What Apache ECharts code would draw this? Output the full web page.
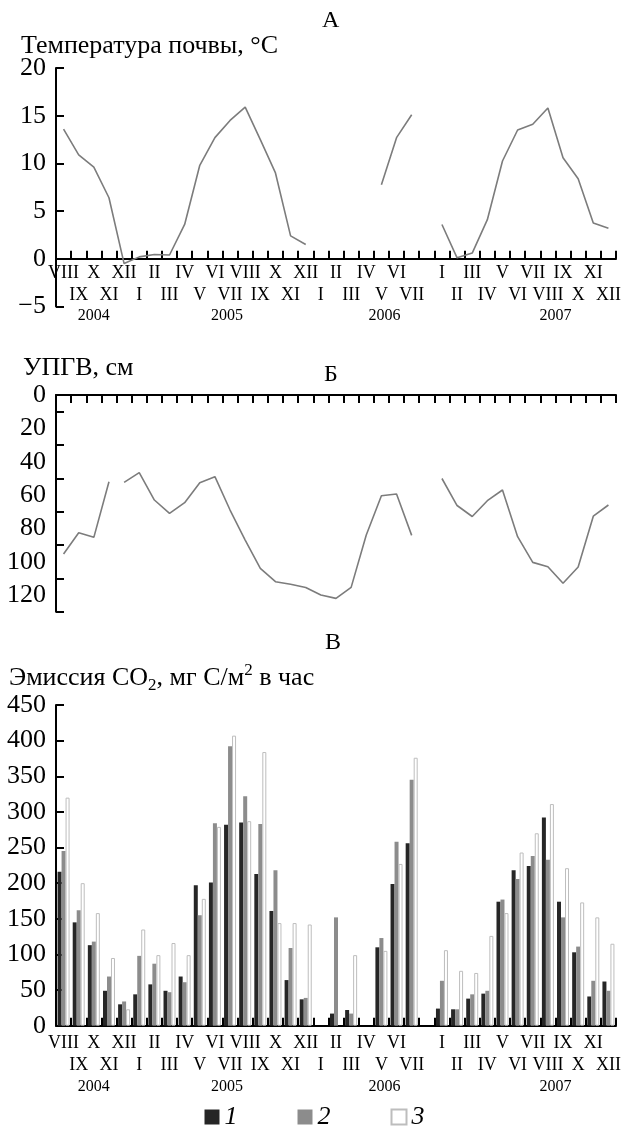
<!DOCTYPE html>
<html><head><meta charset="utf-8">
<script src="https://cdn.jsdelivr.net/npm/echarts@6/dist/echarts.min.js"></script>
<style>html,body{margin:0;padding:0;background:#fff}#c{width:629px;height:1129px}</style>
</head><body><div id="c"></div>
<script>
// Month categories (VIII 2004 – VII 2006, one empty slot, I–XII 2007)
const monthLabels = ['VIII','IX','X','XI','XII',
  'I','II','III','IV','V','VI','VII','VIII','IX','X','XI','XII',
  'I','II','III','IV','V','VI','VII',
  '',
  'I','II','III','IV','V','VI','VII','VIII','IX','X','XI','XII'];
const gapIndex = 24;
const years = ['2004','2005','2006','2007'];
const yearAt = [2, 10.8, 21.2, 32.5];   // category position of each year caption

// A: soil temperature, °C
const soilTemp = [13.6, 10.9, 9.6, 6.4, -0.5,
  0.2, 0.45, 0.4, 3.6, 9.8, 12.7, 14.5, 15.9, 12.5, 9.0, 2.4, 1.5,
  null, null, null, null, 7.75, 12.7, 15.1,
  null,
  3.6, 0.1, 0.6, 4.1, 10.25, 13.5, 14.1, 15.8, 10.6, 8.4, 3.75, 3.2];

// Б: ground water level, cm
const gwl = [95.4, 82.6, 85.4, 52, 52.4,
  46.6, 63, 71, 64.6, 52.6, 49, 69, 87, 104, 112, 113.5, 115.5,
  120, 122, 115.4, 84, 60.4, 59.4, 84.2,
  null,
  50.1, 66.3, 72.9, 63.4, 57, 85, 100.4, 103, 112.9, 103.2, 72.7, 66];
const gwlSegmentStarts = [4];

// В: CO2 emission, mg C/m2 per hour
const co2_1 = [216, 145, 113, 49, 30,
  44, 58, 49, 69, 197, 201, 282, 285, 213, 161, 64, 37,
  null, 17, 22, null, 110, 199, 256,
  null,
  24, 23, 38, 45, 174, 218, 224, 292, 174, 103, 41, 62];
const co2_2 = [245, 162, 118, 69, 34,
  98, 87, 47, 61, 155, 284, 392, 322, 283, 218, 109, 39,
  null, 152, 17, null, 123, 258, 345,
  null,
  63, 23, 44, 49, 177, 206, 238, 233, 152, 111, 63, 49];
const co2_3 = [320, 200, 158, 95, 23,
  135, 99, 116, 99, 178, 279, 407, 287, 384, 144, 144, 142,
  null, null, 99, null, 105, 227, 376,
  null,
  106, 77, 74, 126, 158, 243, 270, 311, 221, 173, 152, 115];

const tempMin = -5, tempMax = 20, tempStep = 5;
const gwlLabels = [0, 20, 40, 60, 80, 100, 120];
const gwlTicks = [10, 30, 50, 70, 90, 110, 130];

const FONT = 'Liberation Serif';
const BLACK = '#000';
const gridA = { left: 56, right: 13, top: 68, height: 238.5 };

function rowLabel(v, i) {
  if (i === gapIndex) return '';
  const row = i < gapIndex ? i % 2 : (i - gapIndex - 1) % 2;
  return row === 0 ? monthLabels[i] : '\n' + monthLabels[i];
}

function xAxisBase(grid, margin, extra) {
  return Object.assign({
    type: 'category', gridIndex: grid, data: monthLabels, boundaryGap: true,
    axisLine: { lineStyle: { color: BLACK, width: 2 } },
    axisTick: { show: true, inside: true, length: 8, interval: 0, lineStyle: { color: BLACK, width: 2 } },
    axisLabel: { interval: 0, formatter: rowLabel, fontFamily: FONT, fontSize: 18, lineHeight: 22, color: BLACK, margin: margin },
    splitLine: { show: false }
  }, extra);
}
function yAxisBase(grid, extra) {
  return Object.assign({
    type: 'value', gridIndex: grid,
    axisLine: { show: true, lineStyle: { color: BLACK, width: 2 } },
    axisTick: { show: true, inside: true, length: 8, lineStyle: { color: BLACK, width: 2 } },
    axisLabel: { fontFamily: FONT, fontSize: 26, color: BLACK, margin: 10,
      formatter: v => String(v).replace('-', '\u2212') },
    splitLine: { show: false }
  }, extra);
}

// labels of panel A sit under the zero line, not under the grid bottom
const zeroOffsetA = (0 - tempMin) / (tempMax - tempMin) * gridA.height;

const segStarts = [0].concat(gwlSegmentStarts, [monthLabels.length]);
const gwlSeries = [];
for (let k = 0; k < segStarts.length - 1; k++) {
  gwlSeries.push({
    type: 'line', xAxisIndex: 1, yAxisIndex: 1, symbol: 'none', connectNulls: false,
    lineStyle: { color: '#7c7c7c', width: 1.6 }, silent: true,
    data: gwl.map((v, i) => (i >= segStarts[k] && i < segStarts[k + 1]) ? v : null)
  });
}

const titleStyle = { fontFamily: FONT, fontSize: 26, fontWeight: 'normal', color: BLACK };
const chart = echarts.init(document.getElementById('c'), null, { renderer: 'canvas' });
chart.setOption({
  animation: false,
  backgroundColor: '#fff',
  title: [
    { text: 'А', left: 317, top: 4, textStyle: Object.assign({}, titleStyle, { fontSize: 24 }) },
    { text: 'Температура почвы, °C', left: 16, top: 28, textStyle: titleStyle },
    { text: 'УПГВ, см', left: 18, top: 350, textStyle: titleStyle },
    { text: 'Б', left: 319, top: 358, textStyle: Object.assign({}, titleStyle, { fontSize: 24 }) },
    { text: 'В', left: 320, top: 626, textStyle: Object.assign({}, titleStyle, { fontSize: 24 }) },
    { text: '{a|Эмиссия CO}{sub|2}{a|, мг C/м}{sup|2}{a| в час}', left: 4, top: 657,
      textStyle: { fontFamily: FONT, fontWeight: 'normal', color: BLACK, rich: {
        a: { fontFamily: FONT, fontWeight: 'normal', fontSize: 26, lineHeight: 32, color: BLACK, verticalAlign: 'middle' },
        sub: { fontFamily: FONT, fontWeight: 'normal', fontSize: 17, lineHeight: 17, color: BLACK, verticalAlign: 'bottom' },
        sup: { fontFamily: FONT, fontWeight: 'normal', fontSize: 17, lineHeight: 17, color: BLACK, verticalAlign: 'top' }
      } } }
  ],
  grid: [
    gridA,
    { left: 56, right: 13, top: 395, height: 216.7 },
    { left: 56, right: 13, top: 705, height: 320.7 }
  ],
  xAxis: [
    xAxisBase(0, 3 - zeroOffsetA, {}),
    xAxisBase(1, 3, { position: 'top', axisLine: { onZero: false, lineStyle: { color: BLACK, width: 2 } }, axisLabel: { show: false } }),
    xAxisBase(2, 7, {})
  ],
  yAxis: [
    yAxisBase(0, { min: tempMin, max: tempMax, interval: tempStep }),
    yAxisBase(1, { min: 0, max: 130, interval: 10, inverse: true,
      axisLabel: { fontFamily: FONT, fontSize: 26, color: BLACK, margin: 10, customValues: gwlLabels },
      axisTick: { show: true, inside: true, length: 8, lineStyle: { color: BLACK, width: 2 }, customValues: gwlTicks } }),
    yAxisBase(2, { min: 0, max: 450, interval: 50 })
  ],
  legend: {
    left: 'center', top: 1104, padding: 0, itemWidth: 15, itemHeight: 15, itemGap: 60, icon: 'rect',
    textStyle: { fontFamily: FONT, fontStyle: 'italic', fontSize: 26, lineHeight: 26, color: BLACK },
    data: ['1', '2', '3']
  },
  series: [
    { type: 'line', xAxisIndex: 0, yAxisIndex: 0, symbol: 'none', connectNulls: false, silent: true,
      lineStyle: { color: '#7c7c7c', width: 1.6 }, data: soilTemp }
  ].concat(gwlSeries, [
    { name: '1', type: 'bar', xAxisIndex: 2, yAxisIndex: 2, barWidth: 4, barGap: '0%', data: co2_1,
      itemStyle: { color: '#262626' } },
    { name: '2', type: 'bar', xAxisIndex: 2, yAxisIndex: 2, barWidth: 4, barGap: '0%', data: co2_2,
      itemStyle: { color: '#8c8c8c' } },
    { name: '3', type: 'bar', xAxisIndex: 2, yAxisIndex: 2, barWidth: 4, barGap: '0%', data: co2_3,
      itemStyle: { color: '#ffffff', borderColor: '#bdbdbd', borderWidth: 1 } }
  ])
});

// Year captions under the month rows
function xAt(axisIdx, f) {
  const i0 = Math.floor(f), t = f - i0;
  const p0 = chart.convertToPixel({ xAxisIndex: axisIdx }, i0);
  const p1 = chart.convertToPixel({ xAxisIndex: axisIdx }, Math.min(i0 + 1, monthLabels.length - 1));
  return p0 + (p1 - p0) * t;
}
const yA = chart.convertToPixel({ yAxisIndex: 0 }, 0) + 57;
const yC = chart.convertToPixel({ yAxisIndex: 2 }, 0) + 61;
const yearGraphics = [];
years.forEach((yr, k) => {
  [[0, yA], [2, yC]].forEach(([ax, y]) => {
    yearGraphics.push({ type: 'text', x: xAt(ax, yearAt[k]), y: y,
      style: { text: yr, fontFamily: FONT, fontSize: 16, fill: BLACK, align: 'center', verticalAlign: 'middle' } });
  });
});
chart.setOption({ graphic: yearGraphics });
</script></body></html>
